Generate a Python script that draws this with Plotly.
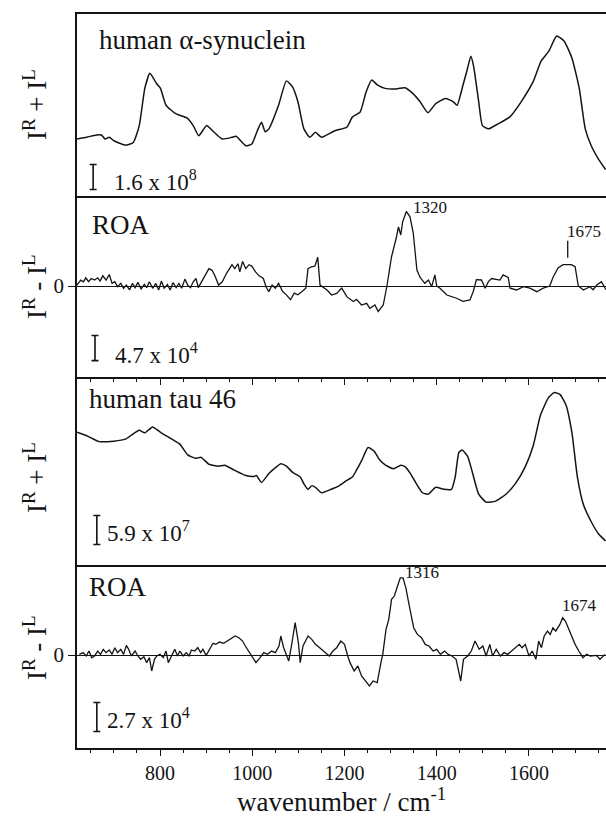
import plotly.graph_objects as go

# ---------------- data ----------------
# panel 1: human alpha-synuclein Raman, I^R + I^L  (units of 1e8)
syn_raman_wn = [620, 641, 662, 673, 681, 690, 700, 725, 742, 755, 767, 778, 792, 801, 813, 834, 859, 872, 884, 901,
                914, 935, 956, 965, 986, 999, 1011, 1020, 1028, 1036, 1057, 1074, 1087, 1099, 1112, 1125, 1137, 1150, 1179, 1205,
                1217, 1234, 1247, 1259, 1271, 1288, 1309, 1331, 1348, 1364, 1381, 1398, 1419, 1436, 1444, 1457, 1465, 1474, 1480, 1491,
                1499, 1512, 1533, 1558, 1583, 1609, 1626, 1643, 1660, 1676, 1693, 1709, 1722, 1735, 1751, 1766]
syn_raman_val = [3.65, 3.76, 3.91, 3.91, 3.65, 3.76, 3.54, 3.26, 3.43, 4.51, 6.89, 7.86, 7.22, 6.89, 5.81, 5.27, 4.99, 4.51, 3.86, 4.51,
                 4.18, 3.65, 3.76, 3.82, 3.22, 3.33, 4.18, 4.73, 4.12, 4.30, 5.81, 7.37, 7.00, 6.03, 4.30, 3.76, 4.08, 3.76, 4.18, 4.40,
                 5.05, 5.38, 6.68, 7.43, 7.11, 6.89, 6.85, 6.93, 6.57, 6.03, 5.33, 5.92, 6.24, 6.03, 5.81, 7.11, 7.97, 8.95, 8.30, 6.03,
                 4.51, 4.30, 4.62, 5.05, 6.03, 7.32, 8.62, 9.27, 10.24, 9.92, 8.84, 6.89, 4.30, 3.22, 2.35, 1.70]

# panel 2: human alpha-synuclein ROA, I^R - I^L  (units of 1e4)
syn_roa_wn = [620, 628, 634, 639, 645, 651, 658, 665, 670, 676, 683, 690, 696, 702, 708, 715, 721, 727, 734, 740,
              746, 752, 759, 766, 771, 777, 784, 791, 797, 803, 809, 816, 822, 828, 835, 841, 847, 854, 860, 866,
              872, 878, 883, 889, 898, 906, 913, 919, 927, 935, 944, 951, 956, 962, 969, 973, 979, 986, 993, 999,
              1007, 1015, 1024, 1030, 1036, 1043, 1050, 1057, 1066, 1074, 1083, 1091, 1099, 1108, 1116, 1121, 1127, 1136, 1142, 1147,
              1162, 1172, 1183, 1194, 1205, 1219, 1226, 1237, 1248, 1255, 1266, 1273, 1284, 1292, 1302, 1313, 1317, 1322, 1326, 1334,
              1342, 1349, 1357, 1364, 1374, 1382, 1389, 1396, 1400, 1407, 1422, 1443, 1457, 1472, 1479, 1486, 1497, 1505, 1512, 1519,
              1530, 1537, 1544, 1555, 1559, 1573, 1588, 1602, 1617, 1631, 1645, 1652, 1663, 1674, 1692, 1700, 1707, 1718, 1732, 1739,
              1747, 1757, 1767]
syn_roa_val = [0.18, 1.11, 0.80, 1.54, 0.80, 1.41, 1.11, 1.54, 0.92, 1.91, 1.11, 2.15, 0.49, 0.80, -0.12, 0.49, -0.43, 0.18, -0.74, 0.49,
               -0.31, 0.68, -0.55, 0.31, -0.31, 0.80, -0.43, 0.49, -0.74, 0.92, -0.43, 0.31, -0.74, 0.62, -0.31, 0.49, -0.43, 1.29, 0.18, -0.31,
               0.80, 1.41, -0.31, 0.62, 1.91, 3.26, 2.95, 1.91, 0.18, 0.80, 2.34, 3.26, 4.00, 3.26, 4.18, 2.64, 4.61, 3.26, 4.00, 3.75,
               2.64, 1.91, 1.41, -0.18, -1.05, 0.18, -0.43, 0.49, -1.05, -1.66, -2.58, -1.35, -1.66, -1.05, -0.43, 3.26, 3.57, 3.75, 5.41, 0.18,
               -0.75, -1.7, -1.38, -0.4, -2.0, -2.9, -2.5, -3.57, -3.26, -4.2, -3.57, -4.8, -3.57, 0.0, 5.5, 9.3, 11.1, 9.59, 12.0, 14.0,
               13.0, 10.0, 3.0, 1.6, 0.5, 1.13, -0.13, 2.1, 0.0, -0.44, -1.7, -2.3, -2.9, -2.63, -1.07, 1.2, 1.13, -0.44, 0.82, 1.4,
               1.13, 1.1, 2.1, 1.63, -0.4, -0.75, -0.13, -0.4, -1.07, -0.4, 0.0, 1.6, 3.4, 4.0, 4.0, 3.63, 0.0, -0.75, -0.13, -0.7,
               0.19, 0.82, -0.7]

# panel 3: human tau 46 Raman, I^R + I^L  (units of 1e7)
tau_raman_wn = [620, 641, 668, 700, 725, 738, 755, 767, 784, 801, 826, 843, 860, 877, 889, 906, 927, 940, 961, 986,
                1003, 1009, 1020, 1036, 1053, 1062, 1074, 1087, 1104, 1112, 1121, 1129, 1137, 1150, 1171, 1188, 1205, 1217, 1226, 1238,
                1251, 1264, 1276, 1289, 1306, 1322, 1331, 1343, 1356, 1369, 1381, 1398, 1415, 1432, 1440, 1448, 1455, 1467, 1478, 1491,
                1507, 1528, 1550, 1571, 1592, 1609, 1625, 1642, 1655, 1667, 1680, 1693, 1705, 1718, 1735, 1751, 1766]
tau_raman_val = [27.0, 26.3, 25.1, 25.2, 25.6, 26.4, 27.4, 26.9, 28.1, 27.0, 25.6, 24.6, 22.4, 21.7, 21.9, 20.5, 20.1, 20.3, 19.3, 18.2,
                 18.0, 18.2, 16.8, 18.6, 20.0, 20.6, 20.1, 18.9, 17.9, 16.5, 15.4, 16.1, 15.8, 14.7, 15.4, 16.1, 17.2, 17.9, 19.3, 21.4,
                 23.9, 23.2, 21.4, 20.3, 19.6, 20.3, 20.0, 18.6, 16.5, 14.7, 14.4, 15.8, 15.4, 15.4, 17.9, 22.9, 23.4, 22.1, 18.6, 14.4,
                 12.8, 13.0, 14.4, 16.6, 20.0, 24.2, 30.5, 34.0, 35.1, 34.7, 32.6, 27.0, 17.9, 12.3, 8.8, 6.3, 4.9]

# panel 4: human tau 46 ROA, I^R - I^L  (units of 1e4)
tau_roa_wn = [625, 633, 640, 646, 652, 658, 665, 671, 677, 683, 690, 696, 702, 708, 715, 721, 727, 732, 738, 746,
              752, 758, 765, 771, 777, 782, 788, 793, 800, 807, 813, 818, 825, 832, 838, 843, 850, 857, 863, 868,
              875, 882, 888, 893, 900, 908, 915, 921, 929, 938, 946, 954, 963, 971, 979, 985, 992, 1000, 1008, 1017,
              1025, 1033, 1042, 1050, 1058, 1062, 1068, 1075, 1079, 1085, 1093, 1100, 1104, 1110, 1121, 1129, 1137, 1150, 1158, 1167,
              1175, 1183, 1192, 1200, 1207, 1212, 1221, 1229, 1237, 1246, 1254, 1262, 1271, 1279, 1283, 1290, 1296, 1302, 1308, 1315,
              1321, 1327, 1333, 1342, 1350, 1358, 1367, 1375, 1383, 1392, 1400, 1408, 1417, 1425, 1433, 1442, 1448, 1452, 1458, 1467,
              1475, 1483, 1492, 1500, 1507, 1515, 1521, 1529, 1538, 1546, 1554, 1563, 1571, 1579, 1585, 1592, 1600, 1607, 1615, 1621,
              1627, 1633, 1640, 1646, 1652, 1658, 1667, 1673, 1679, 1685, 1692, 1700, 1708, 1717, 1725, 1733, 1746, 1754, 1765]
tau_roa_val = [0.06, 0.22, -0.09, 0.37, -0.25, -0.09, 0.37, 0.06, 0.53, 0.22, 0.47, 0.06, 0.68, 0.22, 0.53, 0.06, 0.90, 0.53, -0.09, 0.37,
               -0.09, -0.40, -0.16, -0.71, -0.25, -1.49, -0.40, -0.09, 0.06, -0.25, 0.37, -0.71, -0.09, 0.53, -0.09, 0.37, -0.09, 0.22, -0.09, 0.47,
               0.37, 0.68, 0.22, 0.53, -0.03, 0.53, 1.09, 0.99, 1.21, 1.09, 1.30, 1.46, 1.77, 1.61, 1.30, 0.84, 0.37, -0.09, -0.71, -0.25,
               0.22, 0.06, 0.37, 0.22, 0.84, 1.77, 0.68, -0.09, -0.56, 0.84, 3.01, 1.15, -0.71, 0.84, 1.77, 1.46, 0.99, 0.53, 0.22, -0.09,
               0.37, 0.68, 1.30, 0.99, -0.09, -0.71, -1.49, -1.02, -1.95, -2.42, -2.88, -2.42, -2.57, -0.71, 0.06, 2.39, 3.32, 5.18, 5.49, 6.42,
               7.19, 7.19, 6.26, 4.25, 2.54, 1.92, 1.61, 0.99, 0.84, 0.37, 0.53, 0.06, 0.37, 0.06, -0.09, -0.40, -1.49, -2.42, -0.40, -0.09,
               0.37, 1.30, 0.53, 0.84, -0.09, 0.99, -0.09, 0.53, -0.09, 0.22, 0.06, 0.37, 0.68, 0.99, 0.68, 0.99, -0.09, 0.37, -0.40, 1.30,
               0.68, 1.77, 2.23, 1.92, 2.54, 2.23, 2.85, 3.47, 3.16, 2.54, 1.77, 0.99, 0.37, -0.25, 0.06, -0.09, -0.03, -0.40, 0.06]

panel_titles = ["human \u03b1-synuclein", "ROA", "human tau 46", "ROA"]
y_titles = ["I<sup>R</sup> + I<sup>L</sup>", "I<sup>R</sup> - I<sup>L</sup>",
            "I<sup>R</sup> + I<sup>L</sup>", "I<sup>R</sup> - I<sup>L</sup>"]
scale_values = [1.6, 4.7, 5.9, 2.7]
scale_labels = ["1.6 x 10<sup>8</sup>", "4.7 x 10<sup>4</sup>", "5.9 x 10<sup>7</sup>", "2.7 x 10<sup>4</sup>"]
peak_labels = [("1320", 1, 1345, 14.7), ("1675", 1, 1679, 10.2), ("1316", 3, 1327, 7.7), ("1674", 3, 1668, 4.6)]
x_tick_step = 200
x_title = "wavenumber / cm<sup>-1</sup>"

# ---------------- figure ----------------
FONT = "Liberation Serif"
INK = "#141414"
fig = go.Figure()

series = [(syn_raman_wn, syn_raman_val), (syn_roa_wn, syn_roa_val),
          (tau_raman_wn, tau_raman_val), (tau_roa_wn, tau_roa_val)]
yranges = [[0, 11.65], [-17.1, 16.9], [0, 38.24], [-8.66, 8.38]]
domains = [[0.752, 1.0], [0.5054, 0.752], [0.2493, 0.5054], [0.0, 0.2493]]
xrange_ = [620, 1767]

for i, (xs, ys) in enumerate(series):
    n = "" if i == 0 else str(i + 1)
    smooth = i in (0, 2)
    line = dict(color=INK, width=1.5 if smooth else 1.3)
    if smooth:
        line.update(shape="spline", smoothing=0.5)
    fig.add_trace(go.Scatter(x=xs, y=ys, mode="lines", line=line,
                             xaxis="x" + n, yaxis="y" + n,
                             showlegend=False, hoverinfo="skip"))

# scale bars (I-shaped), length equal to the scale value in data units
bar_x = [655, 659, 663, 663]
bar_center = [1.22, -11.66, 7.12, -5.77]
for i in range(4):
    n = "" if i == 0 else str(i + 1)
    fig.add_trace(go.Scatter(x=[bar_x[i]], y=[bar_center[i]], mode="markers",
                             marker=dict(size=1, color="rgba(0,0,0,0)"),
                             error_y=dict(type="data", array=[scale_values[i] / 2], symmetric=True,
                                          width=3.5, thickness=1.6, color=INK),
                             xaxis="x" + n, yaxis="y" + n, showlegend=False, hoverinfo="skip"))

layout = dict(width=606, height=819, margin=dict(l=77, r=0, t=14, b=71),
              paper_bgcolor="white", plot_bgcolor="white", showlegend=False,
              font=dict(family=FONT, color=INK))

for i in range(4):
    n = "" if i == 0 else str(i + 1)
    has_ticks = i in (1, 3)
    xa = dict(domain=[0, 1], range=xrange_, anchor="y" + n, showline=True, mirror=(i == 0),
              linecolor=INK, linewidth=1.5, showgrid=False, zeroline=False,
              showticklabels=(i == 3), tick0=0, dtick=x_tick_step,
              ticks="outside" if has_ticks else "", ticklen=6, tickwidth=1.2, tickcolor=INK,
              tickfont=dict(family=FONT, size=20, color=INK))
    if has_ticks:
        xa["minor"] = dict(ticks="outside", tick0=0, dtick=50, ticklen=3, tickwidth=1, tickcolor=INK)
    if i > 0:
        xa["matches"] = "x"
    ya = dict(domain=domains[i], range=yranges[i], anchor="x" + n, showline=True, mirror=False,
              linecolor=INK, linewidth=1.5, showgrid=False,
              zeroline=has_ticks, zerolinecolor=INK, zerolinewidth=1.2,
              showticklabels=has_ticks, tickmode="array", tickvals=[0] if has_ticks else [],
              ticktext=["0"] if has_ticks else [],
              ticks="outside" if has_ticks else "", ticklen=7, tickwidth=1.2, tickcolor=INK,
              tickfont=dict(family=FONT, size=21, color=INK))
    layout["xaxis" + n] = xa
    layout["yaxis" + n] = ya

fig.update_layout(**layout)

def px_x(p):
    return (p - 77) / 529.0

def px_y(p):
    return (748 - p) / 734.0

ann = []
title_pos = [(97, 40), (90, 225), (87, 399), (87, 587)]
for t, (px, py) in zip(panel_titles, title_pos):
    ann.append(dict(text=t, xref="paper", yref="paper", x=px_x(px), y=px_y(py),
                    xanchor="left", yanchor="middle", showarrow=False,
                    font=dict(family=FONT, size=27, color=INK)))

ytitle_pos = [105, 287, 478, 648]
for t, py in zip(y_titles, ytitle_pos):
    ann.append(dict(text=t, xref="paper", yref="paper", x=px_x(35), y=px_y(py),
                    xanchor="center", yanchor="middle", textangle=-90, showarrow=False,
                    font=dict(family=FONT, size=27, color=INK)))

scale_pos = [(112, 180), (113, 353), (105, 531), (105, 718)]
for t, (px, py) in zip(scale_labels, scale_pos):
    ann.append(dict(text=t, xref="paper", yref="paper", x=px_x(px), y=px_y(py),
                    xanchor="left", yanchor="middle", showarrow=False,
                    font=dict(family=FONT, size=23, color=INK)))

for t, pi, wx, vy in peak_labels:
    n = "" if pi == 0 else str(pi + 1)
    ann.append(dict(text=t, xref="x" + n, yref="y" + n, x=wx, y=vy,
                    xanchor="left", yanchor="middle", showarrow=False,
                    font=dict(family=FONT, size=17, color=INK)))

ann.append(dict(text=x_title, xref="paper", yref="paper", x=0.5, y=px_y(800),
                xanchor="center", yanchor="middle", showarrow=False,
                font=dict(family=FONT, size=27, color=INK)))

fig.update_layout(annotations=ann)

# small marker tick above the 1675 ROA band
fig.add_shape(type="line", xref="x2", yref="y2", x0=1684, x1=1684, y0=5.3, y1=8.5,
              line=dict(color=INK, width=1.3))

fig.write_html("out.html", config={"displayModeBar": False},
               post_script="document.body.style.margin='0';document.documentElement.style.overflow='hidden';")
